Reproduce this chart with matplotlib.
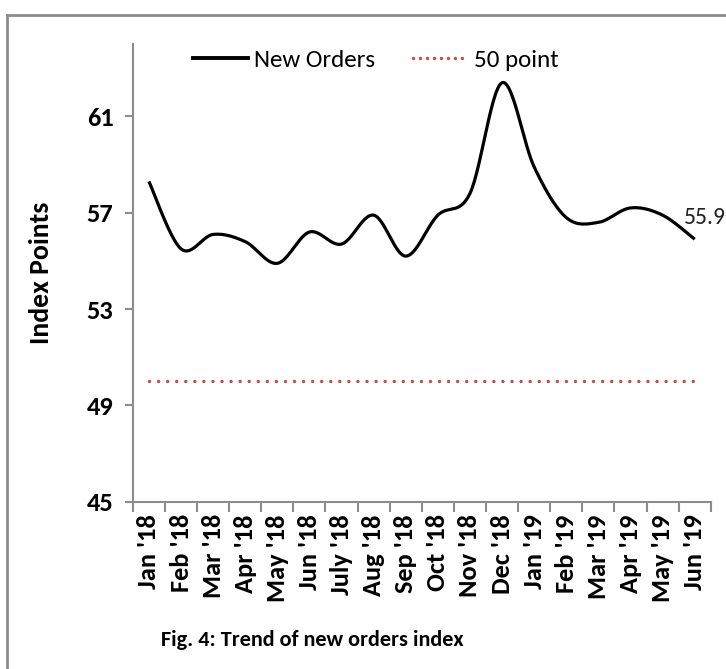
import numpy as np
import matplotlib
matplotlib.use('Agg')
import matplotlib.pyplot as plt
from matplotlib.lines import Line2D

plt.rcParams['font.family'] = ['Carlito', 'Liberation Sans Narrow', 'Liberation Sans', 'DejaVu Sans']

# data
months = ["Jan '18", "Feb '18", "Mar '18", "Apr '18", "May '18", "Jun '18",
          "July '18", "Aug '18", "Sep '18", "Oct '18", "Nov '18", "Dec '18",
          "Jan '19", "Feb '19", "Mar '19", "Apr '19", "May '19", "Jun '19"]
new_orders = [58.3, 55.5, 56.1, 55.8, 54.9, 56.2, 55.7, 56.9, 55.2,
              56.9, 57.8, 62.4, 58.9, 56.8, 56.6, 57.2, 56.9, 55.9]
fifty_line = [50] * len(months)
y_ticks = [45, 49, 53, 57, 61]


def smooth(xs, ys, n=30):
    # bezier smoothing like excel's "smoothed line"
    xs = np.asarray(xs, float)
    ys = np.asarray(ys, float)
    px = np.concatenate([[xs[0]], xs, [xs[-1]]])
    py = np.concatenate([[ys[0]], ys, [ys[-1]]])
    out_x, out_y = [], []
    t = np.linspace(0, 1, n)
    for i in range(1, len(px) - 2):
        x0, x1, x2, x3 = px[i - 1], px[i], px[i + 1], px[i + 2]
        y0, y1, y2, y3 = py[i - 1], py[i], py[i + 1], py[i + 2]
        c1x, c1y = x1 + (x2 - x0) / 6, y1 + (y2 - y0) / 6
        c2x, c2y = x2 - (x3 - x1) / 6, y2 - (y3 - y1) / 6
        bx = (1 - t) ** 3 * x1 + 3 * (1 - t) ** 2 * t * c1x + 3 * (1 - t) * t ** 2 * c2x + t ** 3 * x2
        by = (1 - t) ** 3 * y1 + 3 * (1 - t) ** 2 * t * c1y + 3 * (1 - t) * t ** 2 * c2y + t ** 3 * y2
        out_x.extend(bx)
        out_y.extend(by)
    return np.array(out_x), np.array(out_y)


fig = plt.figure(figsize=(7.26, 6.69), dpi=100)
ax = fig.add_axes([0.183, 0.250, 0.796, 0.684])

x = np.arange(len(months))
sx, sy = smooth(x, new_orders)
ax.plot(sx, sy, color='black', linewidth=2.3, solid_capstyle='butt')
ax.plot(x, fifty_line, color='#c0504d', linewidth=2.5,
        linestyle=(0, (0.01, 2.6)), dash_capstyle='round')

ax.annotate('%.1f' % new_orders[-1], (x[-1], new_orders[-1]), xytext=(-8, 16),
            textcoords='offset points', fontsize=17, color='#222222', va='center')

ax.set_xlim(-0.5, len(months) - 0.5)
ax.set_ylim(45, 64)
ax.set_yticks(y_ticks)
ax.set_yticklabels([str(v) for v in y_ticks], fontsize=19, fontweight='bold')
ax.set_xticks(x)
ax.set_xticklabels(months, rotation=90, fontsize=19, fontweight='bold')
ax.set_xticks(np.arange(-0.5, len(months)), minor=True)
ax.tick_params(axis='x', which='major', length=0, pad=9)
ax.tick_params(axis='x', which='minor', length=7, width=1.5, color='#8c8c8c')
ax.tick_params(axis='y', length=6, width=1.5, color='#8c8c8c', pad=8)

for s in ['top', 'right']:
    ax.spines[s].set_visible(False)
for s in ['left', 'bottom']:
    ax.spines[s].set_color('#8c8c8c')
    ax.spines[s].set_linewidth(1.5)

ax.set_ylabel('Index Points', fontsize=20, fontweight='bold', labelpad=24)

handles = [Line2D([], [], color='black', linewidth=2.8),
           Line2D([], [], color='#c0504d', linewidth=2.5,
                  linestyle=(0, (0.01, 2.0)), dash_capstyle='round')]
ax.legend(handles, ['New Orders', '50 point'], loc='center', bbox_to_anchor=(0.42, 0.965),
          ncol=2, frameon=False, fontsize=18, handlelength=2.2, handletextpad=0.25,
          columnspacing=1.5)

fig.text(0.222, 0.043, 'Fig. 4: Trend of new orders index', fontsize=16, fontweight='bold',
         ha='left', va='center')

# outer frame
fig.add_artist(Line2D([0.0096, 0.0096], [0, 0.978], color='#8c8c8c', linewidth=2,
                      transform=fig.transFigure))
fig.add_artist(Line2D([0.0096, 1.0], [0.978, 0.978], color='#8c8c8c', linewidth=2,
                      transform=fig.transFigure))

fig.savefig('out.png', dpi=100)
